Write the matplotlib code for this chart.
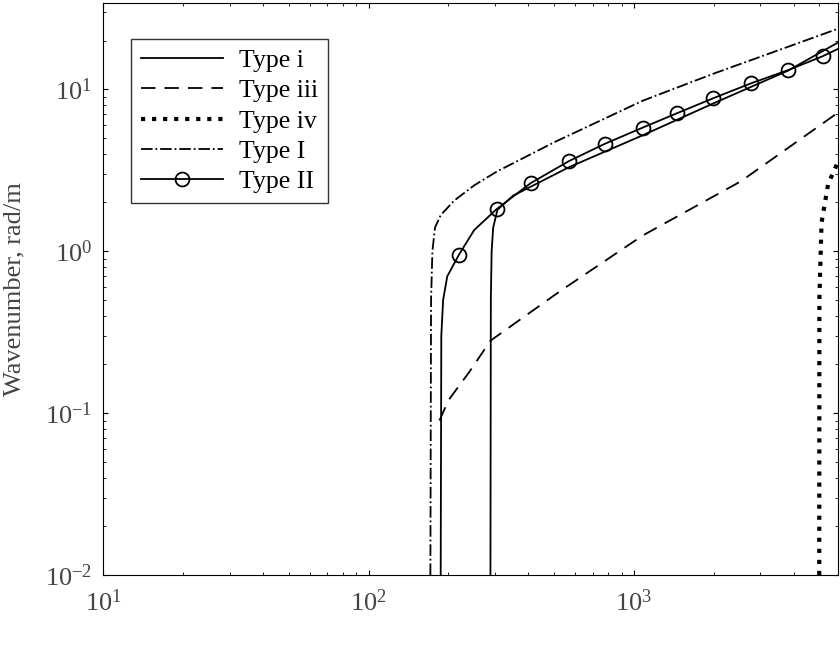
import matplotlib
matplotlib.use("Agg")
import matplotlib.pyplot as plt

plt.rcParams['font.family'] = ['Liberation Serif', 'DejaVu Serif']
plt.rcParams['mathtext.fontset'] = 'cm'

f_i = [288, 289, 291, 295, 306, 350, 408, 569, 1080, 2000, 3800, 5900]
k_i = [0.01, 0.5, 1.0, 1.4, 1.8, 2.2, 2.5, 3.3, 5.2, 8.2, 13.0, 19.5]
f_iii = [185, 200, 240, 288, 530, 1080, 2530, 5900]
k_iii = [0.09, 0.12, 0.18, 0.28, 0.57, 1.25, 2.7, 7.2]
f_iv = [5000, 5005, 5100, 5400, 5900]
k_iv = [0.01, 0.5, 1.5, 2.6, 3.6]
f_I = [171, 172, 174, 178, 187, 210, 250, 304, 500, 1080, 2000, 5900]
k_I = [0.01, 0.5, 1.0, 1.4, 1.67, 2.05, 2.55, 3.1, 4.7, 8.5, 12.5, 23.7]
f_II = [187, 188, 191, 198, 219, 250, 304, 408, 569, 776, 1080, 1450, 1990, 2770, 3800, 5150, 5900]
k_II = [0.01, 0.3, 0.5, 0.7, 0.95, 1.35, 1.82, 2.63, 3.6, 4.6, 5.8, 7.1, 8.8, 10.9, 13.1, 16.0, 17.8]
marks_II = [4] + list(range(6, 16))

fig = plt.figure(figsize=(8.4, 6.49), dpi=100)
ax = fig.add_axes([0.123, 0.114, 0.875, 0.881])
ax.plot(f_i, k_i, 'k-', lw=1.3, label='Type i')
ax.plot(f_iii, k_iii, 'k', ls=(0, (8, 5)), lw=1.3, label='Type iii')
ax.plot(f_iv, k_iv, 'k:', lw=3, label='Type iv')
ax.plot(f_I, k_I, 'k-.', lw=1.3, label='Type I')
ax.plot(f_II, k_II, 'k-', lw=1.3, marker='o', mfc='none', ms=10, mew=1.3,
        markevery=marks_II, label='Type II')
ax.set_xscale('log'); ax.set_yscale('log')
ax.set_xlim(10, 5900); ax.set_ylim(0.01, 34)
ax.set_xlabel('Frequency, Hz', fontsize=19, color='#444444', labelpad=24)
ax.set_ylabel('Wavenumber, rad/m', fontsize=19, color='#444444', labelpad=14)
ax.tick_params(labelsize=19, which='both', direction='in', top=True, right=True,
               labelcolor='#444444')
ax.tick_params(axis='x', pad=10)
ax.tick_params(axis='y', pad=8)
leg = ax.legend(loc='upper left', bbox_to_anchor=(0.02, 0.96), fontsize=18.5,
                frameon=True, fancybox=False, edgecolor='k', handlelength=3.2,
                borderpad=0.4, labelspacing=0.28, handletextpad=0.6)
fig.savefig('out.png', dpi=100)
